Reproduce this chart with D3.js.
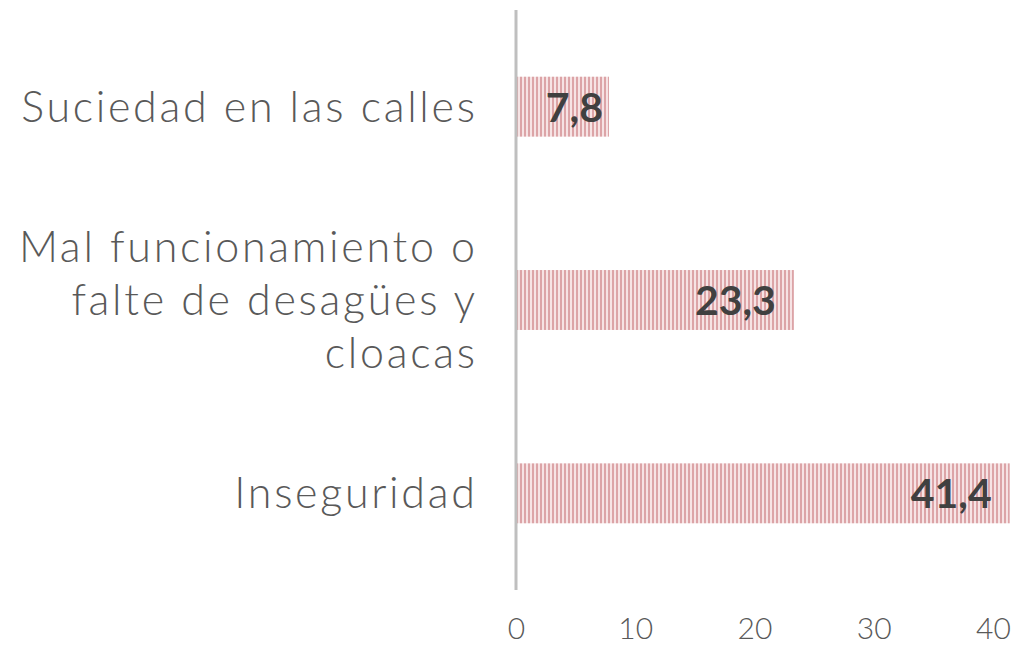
<!DOCTYPE html>
<html><head><meta charset="utf-8">
<script src="https://cdn.jsdelivr.net/npm/d3@7"></script>
<style>body{margin:0;background:#fff;}svg{display:block;}</style>
</head><body>
<svg id="c" width="1015" height="646"></svg>
<script>
const categories = [["Suciedad en las calles"], ["Mal funcionamiento o", "falte de desagües y", "cloacas"], ["Inseguridad"]];
const values = [7.8, 23.3, 41.4];
const valueLabels = ["7,8", "23,3", "41,4"];
const ticks = [0, 10, 20, 30, 40];

const svg = d3.select("#c");
const font = "Lato, 'DejaVu Sans', sans-serif";
const m = {left: 516, top: 10, right: 1015, bottom: 590};
const x = d3.scaleLinear().domain([0, 40]).range([m.left, m.left + 477]);
const y = d3.scaleBand().domain(d3.range(values.length)).range([m.top, m.bottom]).paddingInner(0.69).paddingOuter(0.345);

const defs = svg.append("defs");
const pat = defs.append("pattern").attr("id", "stripes").attr("patternUnits", "userSpaceOnUse")
  .attr("width", 4).attr("height", 4);
pat.append("rect").attr("width", 4).attr("height", 4).attr("fill", "#f6e3e4");
pat.append("rect").attr("width", 2).attr("height", 4).attr("fill", "#dca4a7");

svg.append("g").selectAll("rect").data(values).join("rect")
  .attr("x", x(0)).attr("y", (d, i) => y(i))
  .attr("width", d => x(d) - x(0)).attr("height", y.bandwidth())
  .attr("fill", "url(#stripes)");

svg.append("g").selectAll("text").data(values).join("text")
  .attr("x", d => Math.max(x(d) - 18, x(0) + 87)).attr("y", (d, i) => y(i) + y.bandwidth() / 2 + 15)
  .attr("text-anchor", "end").attr("font-family", font).attr("font-weight", "bold")
  .attr("font-size", 41).attr("fill", "#404040")
  .text((d, i) => valueLabels[i]);

svg.append("line").attr("x1", x(0)).attr("x2", x(0)).attr("y1", m.top).attr("y2", m.bottom)
  .attr("stroke", "#bfbfbf").attr("stroke-width", 3);

const ax = svg.append("g").attr("transform", `translate(0,${m.bottom})`)
  .call(d3.axisBottom(x).tickValues(ticks).tickSize(0).tickPadding(28).tickFormat(d3.format("d")));
ax.select(".domain").remove();
ax.selectAll("text").attr("font-family", font).attr("font-size", 30).attr("fill", "#595959").attr("font-weight", 300);

const lh = 53;
const ls = 2.7;
const cg = svg.append("g").selectAll("text").data(categories).join("text")
  .attr("text-anchor", "end").attr("font-family", font).attr("font-weight", 300)
  .attr("font-size", 43).attr("fill", "#595959").attr("letter-spacing", ls);
cg.each(function(lines, i) {
  const cy = y(i) + y.bandwidth() / 2;
  const t = d3.select(this);
  lines.forEach((ln, j) => {
    t.append("tspan").attr("x", 475 + ls)
      .attr("y", cy + 15 + (j - (lines.length - 1) / 2) * lh).text(ln);
  });
});
</script>
</body></html>
